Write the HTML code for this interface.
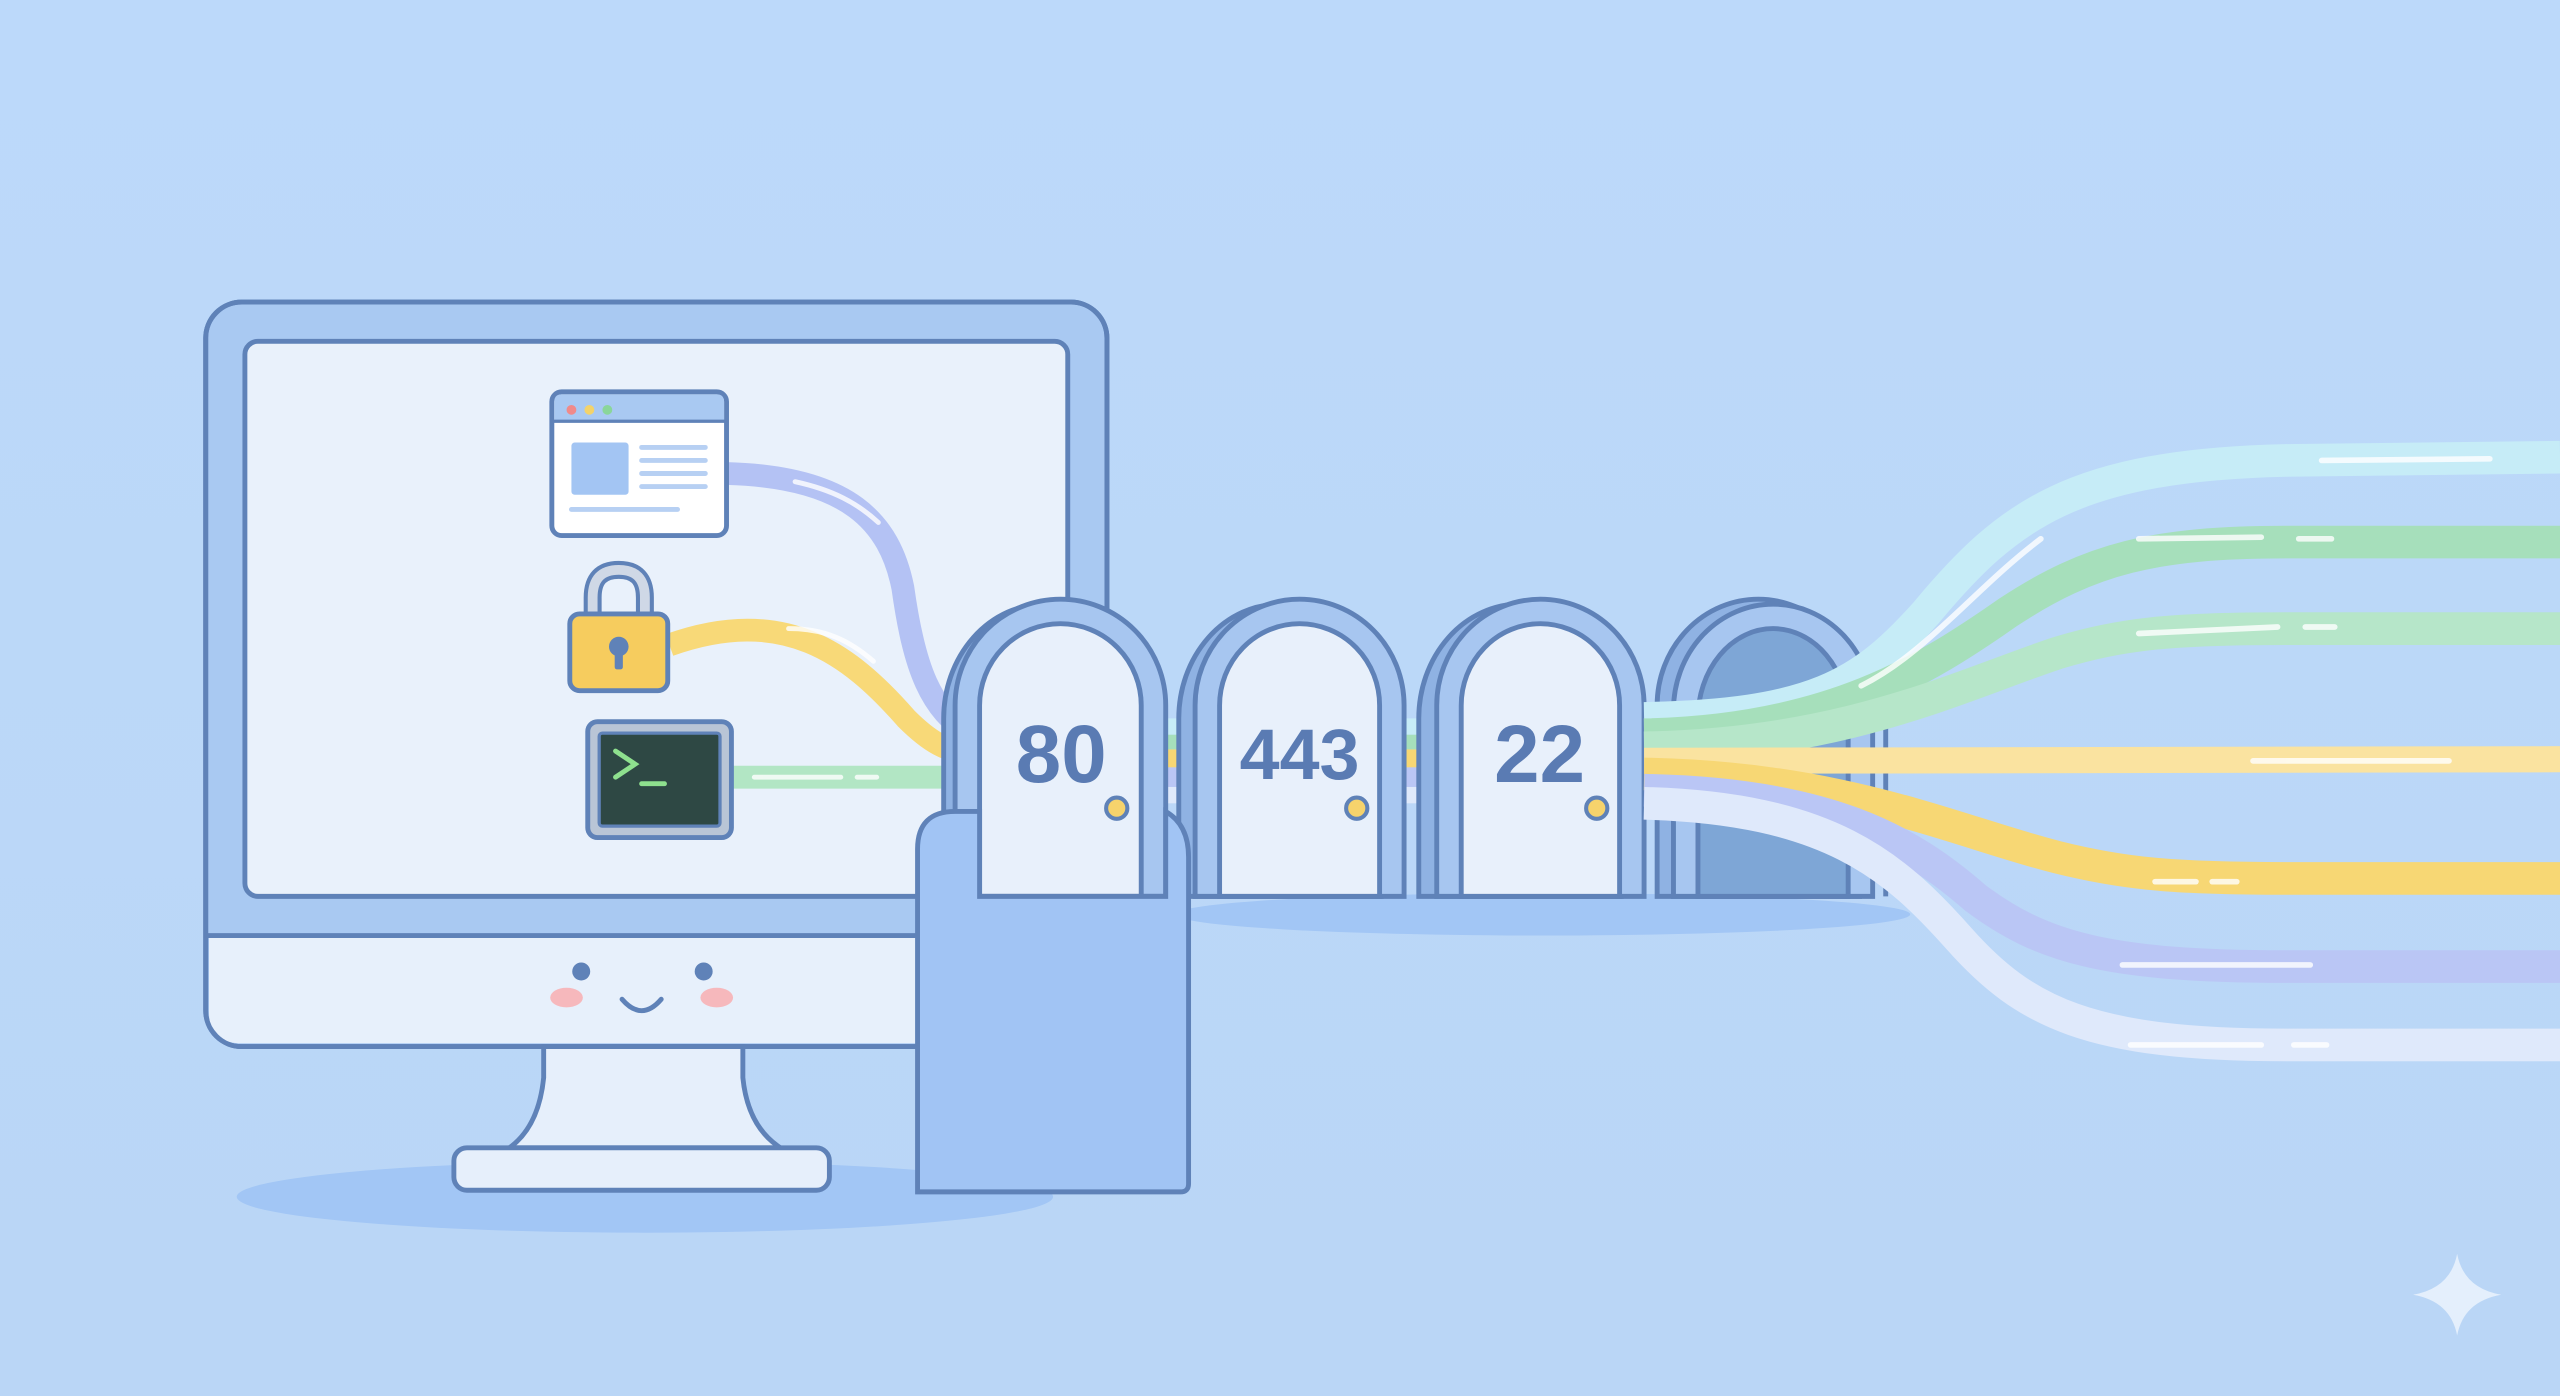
<!DOCTYPE html>
<html><head><meta charset="utf-8"><style>
html,body{margin:0;padding:0;width:2560px;height:1396px;overflow:hidden;background:#bcd8f8}
svg{display:block}
</style></head><body>
<svg width="2560" height="1396" viewBox="0 0 1568 855" xmlns="http://www.w3.org/2000/svg">
<defs>
<linearGradient id="bg" x1="0" y1="0" x2="0" y2="1"><stop offset="0" stop-color="#bcd9fa"/><stop offset="1" stop-color="#bad6f6"/></linearGradient>
</defs>
<rect width="1568" height="855" fill="url(#bg)"/>
<ellipse cx="395" cy="733" rx="250" ry="22" fill="#a2c6f5"/>
<ellipse cx="945" cy="560" rx="225" ry="13" fill="#a2c6f5"/>
<rect x="126" y="185" width="552" height="456" rx="22" fill="#a9c9f2" stroke="#5f82b8" stroke-width="3"/>
<path d="M128,573 L676,573 L676,620 Q676,639 657,639 L148,639 Q128,639 128,620 Z" fill="#e7f0fb"/>
<line x1="127" y1="573" x2="677" y2="573" stroke="#5f82b8" stroke-width="3"/>
<rect x="126" y="185" width="552" height="456" rx="22" fill="none" stroke="#5f82b8" stroke-width="3"/>
<rect x="150" y="209" width="504" height="340" rx="8" fill="#e9f1fb" stroke="#5f82b8" stroke-width="3"/>
<circle cx="356" cy="595" r="5.5" fill="#5f82b8"/><circle cx="431" cy="595" r="5.5" fill="#5f82b8"/>
<ellipse cx="347" cy="611" rx="10" ry="6" fill="#f6b8bc"/><ellipse cx="439" cy="611" rx="10" ry="6" fill="#f6b8bc"/>
<path d="M381,612 Q393,626 405,612" fill="none" stroke="#5f82b8" stroke-width="3" stroke-linecap="round"/>
<path d="M333,641 L333,660 Q330,690 312,703 L478,703 Q458,690 455,660 L455,641 Z" fill="#e6effb" stroke="#5f82b8" stroke-width="3"/>
<rect x="278" y="703" width="230" height="26" rx="8" fill="#e6effb" stroke="#5f82b8" stroke-width="3"/>
<path d="M445,290 C520,292 545,320 553,360 C560,410 570,435 595,450" fill="none" stroke="#b4c2f4" stroke-width="14"/>
<path d="M410,395 C480,370 520,400 555,440 C570,455 580,460 595,462" fill="none" stroke="#f8d978" stroke-width="14"/>
<path d="M448,476 L595,476" stroke="#b2e6c4" stroke-width="14"/>
<g stroke="#fff" stroke-width="3" stroke-linecap="round" fill="none" opacity="0.8">
<path d="M462,476 L515,476"/><path d="M525,476 L537,476"/><path d="M483,385 C505,385 520,392 535,405"/><path d="M487,295 C510,300 525,308 538,320"/>
</g>
<rect x="338" y="240" width="107" height="88" rx="6" fill="#ffffff" stroke="#5f82b8" stroke-width="3"/>
<path d="M339.5,258 L339.5,246 Q339.5,241.5 344,241.5 L439,241.5 Q443.5,241.5 443.5,246 L443.5,258 Z" fill="#a9c9f2"/>
<line x1="339" y1="258" x2="444" y2="258" stroke="#5f82b8" stroke-width="2"/>
<circle cx="350" cy="251" r="3" fill="#f08a8a"/><circle cx="361" cy="251" r="3" fill="#f3d36b"/><circle cx="372" cy="251" r="3" fill="#8ad69a"/>
<rect x="350" y="271" width="35" height="32" rx="2" fill="#a3c5f3"/>
<g stroke="#b7d0f3" stroke-width="3" stroke-linecap="round"><path d="M393,274 L432,274"/><path d="M393,282 L432,282"/><path d="M393,290 L432,290"/><path d="M393,298 L432,298"/><path d="M350,312 L415,312"/></g>
<path d="M363,378 L363,366 Q363,349 379,349 Q395,349 395,366 L395,378" fill="none" stroke="#5f82b8" stroke-width="11"/>
<path d="M363,378 L363,366 Q363,349 379,349 Q395,349 395,366 L395,378" fill="none" stroke="#cfd8e6" stroke-width="6"/>
<rect x="349" y="376" width="60" height="47" rx="6" fill="#f6cc5e" stroke="#5f82b8" stroke-width="3"/>
<circle cx="379" cy="396" r="6" fill="#5f82b8"/><rect x="376.5" y="398" width="5" height="12" rx="1.5" fill="#5f82b8"/>
<rect x="360" y="442" width="88" height="71" rx="6" fill="#b9c5d6" stroke="#5f82b8" stroke-width="3"/>
<rect x="367" y="449" width="74" height="57" rx="2" fill="#2e4844" stroke="#5f82b8" stroke-width="2"/>
<path d="M377,460 L389,468 L377,476" fill="none" stroke="#8ee08e" stroke-width="3" stroke-linecap="round"/>
<path d="M393,480 L407,480" stroke="#8ee08e" stroke-width="3" stroke-linecap="round"/>
<rect x="700" y="440" width="330" height="10" fill="#c6ecf7"/>
<rect x="700" y="450" width="330" height="9" fill="#a6dfbb"/>
<rect x="700" y="459" width="330" height="11" fill="#f7d774"/>
<rect x="700" y="470" width="330" height="12" fill="#bac6f5"/>
<rect x="700" y="482" width="330" height="10" fill="#dfe9fb"/>
<g stroke="#5f82b8" stroke-width="3">
 <path d="M578,549 L578,440 A62,70 0 0 1 702,440 L702,549 Z" fill="#8fb2e3"/>
 <path d="M585,549 L585,432 A64.5,65 0 0 1 714,432 L714,549 Z" fill="#a7c6f0"/>
 <path d="M600,549 L600,432 A49.5,50 0 0 1 699,432 L699,549 Z" fill="#e8f0fb"/>
 <path d="M722,549 L722,440 A62,70 0 0 1 846,440 L846,549 Z" fill="#8fb2e3"/>
 <path d="M732,549 L732,432 A64,65 0 0 1 860,432 L860,549 Z" fill="#a7c6f0"/>
 <path d="M747,549 L747,432 A49,50 0 0 1 845,432 L845,549 Z" fill="#e8f0fb"/>
 <path d="M869,549 L869,440 A62,70 0 0 1 993,440 L993,549 Z" fill="#8fb2e3"/>
 <path d="M880,549 L880,432 A63.5,65 0 0 1 1007,432 L1007,549 Z" fill="#a7c6f0"/>
 <path d="M895,549 L895,432 A48.5,50 0 0 1 992,432 L992,549 Z" fill="#e8f0fb"/>
 <path d="M1015,549 L1015,432 A62,65 0 0 1 1139,432 L1139,549 Z" fill="#8fb2e3"/>
 <path d="M1025,549 L1025,435 A61,65 0 0 1 1147,435 L1147,549 Z" fill="#a7c6f0"/>
 <path d="M1040,549 L1040,440 A46,55 0 0 1 1132,440 L1132,549 Z" fill="#7ea6d6"/>
 <line x1="1155" y1="430" x2="1155" y2="549"/>
</g>
<g fill="none">
<path d="M1007,440 C1110,438 1140,420 1180,375 C1230,315 1270,285 1400,282 L1568,280" stroke="#c6ecf7" stroke-width="20"/>
<path d="M1007,450 C1120,448 1180,410 1230,375 C1280,342 1320,332 1400,332 L1568,332" stroke="#a6dfbb" stroke-width="20"/>
<path d="M1007,458 C1130,456 1200,420 1260,400 C1300,388 1330,385 1400,385 L1568,385" stroke="#b6e6c9" stroke-width="20"/>
<path d="M1007,466 L1568,465" stroke="#fae3a0" stroke-width="16"/>
<path d="M1007,474 C1130,476 1200,510 1260,525 C1300,535 1330,538 1400,538 L1568,538" stroke="#f7d774" stroke-width="20"/>
<path d="M1007,484 C1120,486 1170,515 1210,550 C1250,580 1290,592 1400,592 L1568,592" stroke="#bac6f5" stroke-width="20"/>
<path d="M1007,492 C1120,495 1160,530 1200,575 C1240,620 1280,640 1400,640 L1568,640" stroke="#dfe9fb" stroke-width="20"/>
<g stroke="#ffffff" stroke-width="3.5" stroke-linecap="round" opacity="0.8">
<path d="M1422,282 L1525,281"/><path d="M1310,330 L1385,329"/><path d="M1408,330 L1428,330"/>
<path d="M1310,388 L1395,384"/><path d="M1412,384 L1430,384"/><path d="M1380,466 L1500,466"/>
<path d="M1320,540 L1345,540"/><path d="M1355,540 L1370,540"/><path d="M1300,591 L1415,591"/><path d="M1305,640 L1385,640"/><path d="M1405,640 L1425,640"/>
<path d="M1140,420 C1180,400 1210,360 1250,330"/>
</g>
</g>
<g font-family="Liberation Sans, sans-serif" font-weight="bold" fill="#5a7bb3" text-anchor="middle">
<text x="650" y="479" font-size="50">80</text>
<text x="796" y="477" font-size="44">443</text>
<text x="943" y="479" font-size="50">22</text>
</g>
<g fill="#f6d36c" stroke="#5f82b8" stroke-width="2.5">
<circle cx="684" cy="495" r="6.5"/><circle cx="831" cy="495" r="6.5"/><circle cx="978" cy="495" r="6.5"/>
</g>
<path d="M562,730 L562,520 Q562,497 585,497 L600,497 L600,549 L714,549 L714,497 Q728,505 728,525 L728,725 Q728,730 723,730 Z" fill="#a1c4f4" stroke="#5f82b8" stroke-width="3"/>
<path d="M1505,768 Q1509,789 1532,793 Q1509,797 1505,818 Q1501,797 1478,793 Q1501,789 1505,768 Z" fill="#e4effc"/>
</svg>
</body></html>
